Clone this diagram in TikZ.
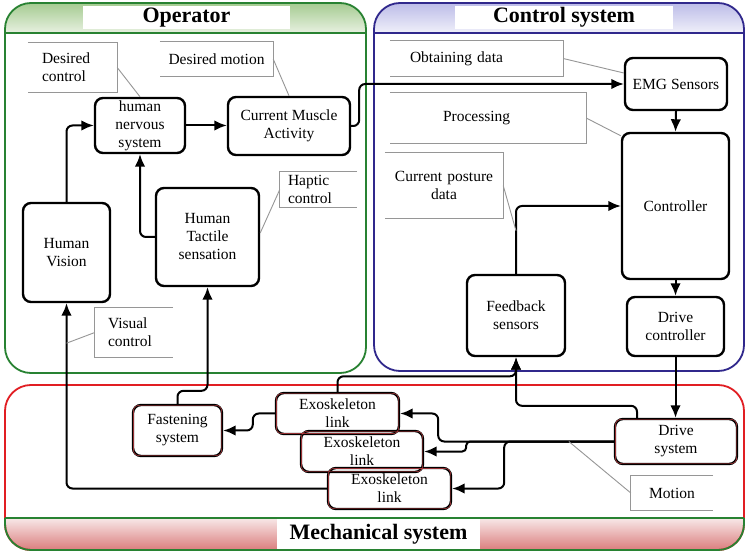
\documentclass[tikz,border=0pt]{standalone}
\usepackage{fontspec}
\setmainfont{Liberation Serif}
\usetikzlibrary{arrows.meta}

\definecolor{opgreen}{RGB}{40,130,50}
\definecolor{optop}{RGB}{165,203,145}
\definecolor{opbot}{RGB}{232,241,225}
\definecolor{ctblue}{RGB}{48,40,140}
\definecolor{cttop}{RGB}{188,188,232}
\definecolor{ctbot}{RGB}{240,240,250}
\definecolor{mechred}{RGB}{225,30,35}
\definecolor{mechtop}{RGB}{248,232,232}
\definecolor{mechbot}{RGB}{218,125,125}
\definecolor{calloutgray}{RGB}{150,150,150}

\newcommand\dgtext{\fontsize{15.5}{18}\selectfont}
\newcommand\dgtitle{\fontsize{22}{24}\selectfont\bfseries}

\begin{document}
\begin{tikzpicture}[x=1pt,y=1pt,
  blk/.style={draw, line width=2.4pt, rounded corners=8pt, fill=white,
    align=center, inner sep=0pt, font=\dgtext},
  mech/.style={blk, fill=none},
  conn/.style={line width=2pt, rounded corners=6pt, -{Latex[length=12.5pt,width=10.5pt]}},
  callbox/.style={inner ysep=0pt, font=\dgtext},
  callline/.style={draw=calloutgray, line width=0.9pt},
  titlebox/.style={fill=white, inner sep=0pt, font=\dgtitle},
  panel/.style={line width=1.8pt, rounded corners=26pt}
]
\useasboundingbox (0,0) rectangle (746,554);
\fill[white] (0,0) rectangle (746,554);

% ---------- Operator panel ----------
\begin{scope}
  \clip[rounded corners=26pt] (5,181) rectangle (366,551);
  \shade[top color=optop, bottom color=opbot] (5,521) rectangle (366,551);
\end{scope}
\draw[panel, draw=opgreen] (5,181) rectangle (366,551);
\draw[opgreen, line width=1.8pt] (5,521) -- (366,521);
\node[titlebox, minimum width=207pt, minimum height=23pt] (optitle) at (186.5,536.5) {Operator};

% ---------- Control system panel ----------
\begin{scope}
  \clip[rounded corners=26pt] (374,183) rectangle (744,551);
  \shade[top color=cttop, bottom color=ctbot] (374,521) rectangle (744,551);
\end{scope}
\draw[panel, draw=ctblue] (374,183) rectangle (744,551);
\draw[ctblue, line width=1.8pt] (374,521) -- (744,521);
\node[titlebox, minimum width=218pt, minimum height=23pt] (cttitle) at (564,536.5) {Control system};

% ---------- Mechanical system panel ----------
\begin{scope}
  \clip[rounded corners=26pt] (5,4) rectangle (744,169);
  \shade[top color=mechtop, bottom color=mechbot] (5,4) rectangle (744,36);
\end{scope}
\draw[panel, draw=mechred] (5,4) rectangle (744,169);
\draw[opgreen, line width=1.8pt, rounded corners=26pt] (5,36) -- (5,4) -- (744,4) -- (744,36);
\draw[opgreen, line width=1.8pt] (5,36) -- (744,36);
\node[titlebox, minimum width=203pt, minimum height=30pt] (mechtitle) at (378.5,20) {Mechanical system};

% ---------- Operator blocks ----------
\node[blk, minimum width=90pt, minimum height=55pt] (nervous) at (140,428.5) {human\\nervous\\system};
\node[blk, minimum width=122pt, minimum height=58pt] (cma) at (289,428) {Current Muscle\\Activity};
\node[blk, minimum width=87pt, minimum height=99pt] (vision) at (66.5,301.5) {Human\\Vision};
\node[blk, minimum width=103pt, minimum height=98pt] (tactile) at (207.5,317) {Human\\Tactile\\sensation};

% ---------- Control blocks ----------
\node[blk, minimum width=102pt, minimum height=52pt] (emg) at (676,470) {EMG Sensors};
\node[blk, minimum width=107pt, minimum height=146pt] (ctrl) at (675.5,348) {Controller};
\node[blk, minimum width=97pt, minimum height=59pt] (drivectl) at (675.5,227.5) {Drive\\controller};
\node[blk, minimum width=98pt, minimum height=81pt] (feedback) at (516,238.5) {Feedback\\sensors};

% ---------- Mechanical blocks ----------
\node[mech, minimum width=122pt, minimum height=45pt] (drivesys) at (676,112.5) {Drive\\system};
\node[mech, minimum width=89pt, minimum height=51pt] (fasten) at (177.5,123.5) {Fastening\\system};
\node[mech, minimum width=123pt, minimum height=41pt] (link1) at (337.5,140.5) {Exoskeleton\\link};
\node[mech, minimum width=122pt, minimum height=41pt] (link2) at (362,102.5) {Exoskeleton\\link};
\node[mech, minimum width=123pt, minimum height=41pt] (link3) at (389.5,65.5) {Exoskeleton\\link};
\foreach \n in {drivesys,fasten,link1,link2,link3}
  \draw[mechred!80, line width=0.4pt, rounded corners=6pt]
    ([shift={(1.5pt,1.5pt)}]\n.south west) rectangle ([shift={(-1.5pt,-1.5pt)}]\n.north east);

% ---------- Connectors ----------
\draw[conn] (vision.north) |- (nervous.west);
\draw[conn] (nervous.east) -- (nervous.east -| cma.west);
\draw[conn] (tactile.west) -| (nervous.south);
\draw[conn] (cma.east) -- ++(8,0) |- (emg.west);
\draw[conn] (emg.south) -- (ctrl.north);
\draw[conn] (ctrl.south) -- (drivectl.north);
\draw[conn] (drivectl.south) -- (drivectl.south |- drivesys.north);
\draw[conn] (feedback.north) |- (ctrl.west);
\draw[conn] ([xshift=-39pt]drivesys.north) -- ++(0,12) -| (feedback.south);
\draw[conn] (link1.north) -- ++(0,15.5) -| (feedback.south);
\draw[conn] (drivesys.west) -| ([xshift=38pt]link1.east) -- (link1.east);
\draw[conn, rounded corners=4pt] (drivesys.west) -| ([xshift=42pt]link2.east) -- (link2.east);
\draw[conn] (drivesys.west) -| ([xshift=52pt]link3.east) -- (link3.east);
\draw[conn] (link1.west) -- ++(-22,0) |- (fasten.east);
\draw[conn] (fasten.north) -- ++(0,13) -| (tactile.south);
\draw[conn] (link3.west) -| (vision.south);

% points on connectors that callouts refer to
\coordinate (vistap) at ([yshift=-40pt]vision.south);
\coordinate (motiontap) at ([xshift=-45pt]drivesys.west);
\coordinate (posturetap) at ([yshift=43pt]feedback.north);

% ---------- Callouts ----------
\node[callbox, minimum width=89pt, minimum height=49pt, text width=61pt, inner xsep=14pt, align=left]
  (dcb) at (72.5,486.5) {Desired\\control};
\draw[callline] (dcb.north west) -- (dcb.north east) -- (dcb.south east) -- (dcb.south west);
\draw[callline] (dcb.east) -- (nervous.north);

\node[callbox, minimum width=113pt, minimum height=34pt, align=center]
  (dmb) at (216.5,495) {Desired motion};
\draw[callline] (dmb.north west) -- (dmb.north east) -- (dmb.south east) -- (dmb.south west);
\draw[callline] (dmb.east) -- (cma.north);

\node[callbox, minimum width=77pt, minimum height=35pt, text width=61pt, inner xsep=8pt, align=left]
  (hcb) at (318.5,364.5) {Haptic\\control};
\draw[callline] (hcb.north east) -- (hcb.north west) -- (hcb.south west) -- (hcb.south east);
\draw[callline] (hcb.west) -- ([yshift=4pt]tactile.east);

\node[callbox, minimum width=78pt, minimum height=49pt, text width=52pt, inner xsep=13pt, align=left]
  (vcb) at (134,221.5) {Visual\\control};
\draw[callline] (vcb.north east) -- (vcb.north west) -- (vcb.south west) -- (vcb.south east);
\draw[callline] (vcb.west) -- (vistap);

\node[callbox, minimum width=82pt, minimum height=34pt, align=center]
  (mob) at (672,61) {Motion};
\draw[callline] (mob.north east) -- (mob.north west) -- (mob.south west) -- (mob.south east);
\draw[callline] (mob.west) -- (motiontap);

\node[callbox, minimum width=173pt, minimum height=35pt, text width=133pt, inner xsep=20pt, align=left]
  (odb) at (476.5,495.5) {Obtaining data};
\draw[callline] (odb.north west) -- (odb.north east) -- (odb.south east) -- (odb.south west);
\draw[callline] (odb.east) -- ([yshift=11pt]emg.west);

\node[callbox, minimum width=196pt, minimum height=50pt, text width=90pt, inner xsep=53pt, align=left]
  (prb) at (488,436) {Processing};
\draw[callline] (prb.north west) -- (prb.north east) -- (prb.south east) -- (prb.south west);
\draw[callline] (prb.east) -- ([yshift=-4pt]ctrl.north west);

\node[callbox, minimum width=118pt, minimum height=65pt, text width=110pt, inner xsep=4pt, align=center]
  (cpb) at (444,368.5) {Current posture\\data};
\draw[callline] (cpb.north west) -- (cpb.north east) -- (cpb.south east) -- (cpb.south west);
\draw[callline] (cpb.east) -- (posturetap);

\end{tikzpicture}
\end{document}
